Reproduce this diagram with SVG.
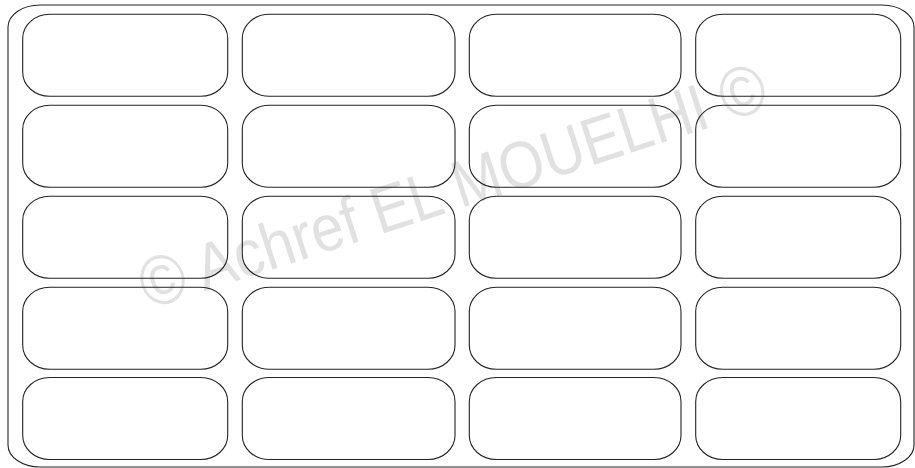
<svg xmlns="http://www.w3.org/2000/svg" width="915" height="468" viewBox="0 0 915 468">
<style>
.box{fill:none;stroke:#222;stroke-width:1.1}
.wm{font-family:"Liberation Sans",Arial,sans-serif;font-size:60px;fill:#e1e1e1}
.cp{font-size:64px}
</style>
<rect width="915" height="468" fill="#fff"/>
<text class="wm" x="0" y="0" text-anchor="middle" transform="translate(460 208.5) rotate(-18) scale(0.97 1.1)"><tspan class="cp">©</tspan> Achref EL MOUELHI <tspan class="cp">©</tspan></text>
<g id="frame"><rect class="box" x="8" y="5" width="906" height="462" rx="32" ry="22"/></g>
<g id="r1c1"><rect class="box" x="22.7" y="14.3" width="205" height="82" rx="27" ry="24"/></g>
<g id="r1c2"><rect class="box" x="242.3" y="14.3" width="212.7" height="82" rx="27" ry="24"/></g>
<g id="r1c3"><rect class="box" x="469.3" y="14.3" width="211.7" height="82" rx="27" ry="24"/></g>
<g id="r1c4"><rect class="box" x="695.7" y="14.3" width="205" height="82" rx="27" ry="24"/></g>
<g id="r2c1"><rect class="box" x="22.7" y="105.3" width="205" height="82" rx="27" ry="24"/></g>
<g id="r2c2"><rect class="box" x="242.3" y="105.3" width="212.7" height="82" rx="27" ry="24"/></g>
<g id="r2c3"><rect class="box" x="469.3" y="105.3" width="211.7" height="82" rx="27" ry="24"/></g>
<g id="r2c4"><rect class="box" x="695.7" y="105.3" width="205" height="82" rx="27" ry="24"/></g>
<g id="r3c1"><rect class="box" x="22.7" y="196.3" width="205" height="82" rx="27" ry="24"/></g>
<g id="r3c2"><rect class="box" x="242.3" y="196.3" width="212.7" height="82" rx="27" ry="24"/></g>
<g id="r3c3"><rect class="box" x="469.3" y="196.3" width="211.7" height="82" rx="27" ry="24"/></g>
<g id="r3c4"><rect class="box" x="695.7" y="196.3" width="205" height="82" rx="27" ry="24"/></g>
<g id="r4c1"><rect class="box" x="22.7" y="287.3" width="205" height="82" rx="27" ry="24"/></g>
<g id="r4c2"><rect class="box" x="242.3" y="287.3" width="212.7" height="82" rx="27" ry="24"/></g>
<g id="r4c3"><rect class="box" x="469.3" y="287.3" width="211.7" height="82" rx="27" ry="24"/></g>
<g id="r4c4"><rect class="box" x="695.7" y="287.3" width="205" height="82" rx="27" ry="24"/></g>
<g id="r5c1"><rect class="box" x="22.7" y="377.5" width="205" height="82" rx="27" ry="24"/></g>
<g id="r5c2"><rect class="box" x="242.3" y="377.5" width="212.7" height="82" rx="27" ry="24"/></g>
<g id="r5c3"><rect class="box" x="469.3" y="377.5" width="211.7" height="82" rx="27" ry="24"/></g>
<g id="r5c4"><rect class="box" x="695.7" y="377.5" width="205" height="82" rx="27" ry="24"/></g>
<g id="connectors"></g>
</svg>
